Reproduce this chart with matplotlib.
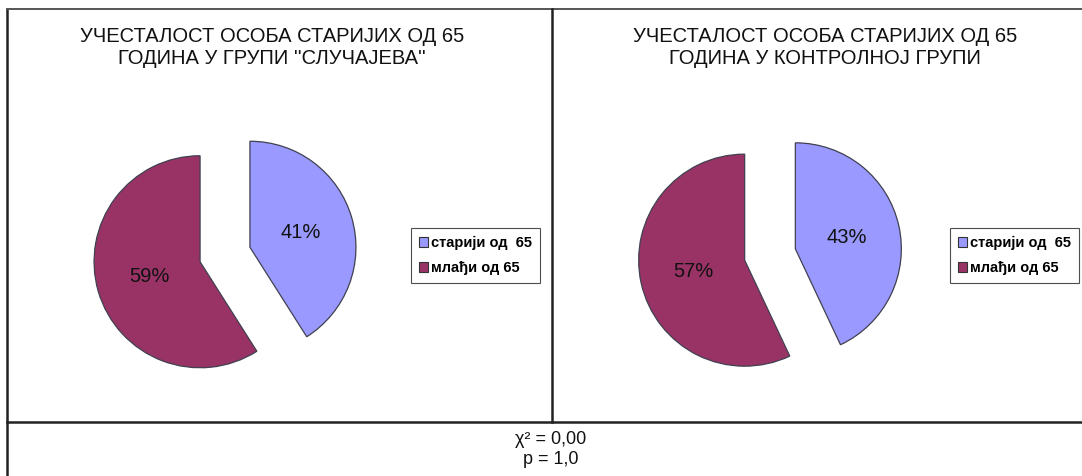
import matplotlib
matplotlib.use("Agg")
import matplotlib.pyplot as plt
from matplotlib.lines import Line2D
from matplotlib.patches import Patch

plt.rcParams['font.family'] = ['Liberation Sans', 'DejaVu Sans']

categories = ["старији од  65", "млађи од 65"]
cases_pct = [41, 59]
control_pct = [43, 57]
titles = ["УЧЕСТАЛОСТ ОСОБА СТАРИЈИХ ОД 65\nГОДИНА У ГРУПИ ''СЛУЧАЈЕВА''",
          "УЧЕСТАЛОСТ ОСОБА СТАРИЈИХ ОД 65\nГОДИНА У КОНТРОЛНОЈ ГРУПИ"]
stats_text = "χ² = 0,00\np = 1,0"

colors = ["#9999FF", "#993366"]
W, H = 1082, 476
fig = plt.figure(figsize=(W / 100, H / 100), dpi=100)
fig.patch.set_facecolor("white")

R = 106  # pie radius in px
half = 1.5 * R

def add_pie(cx, cy, values, title, tx, legx):
    ax = fig.add_axes([(cx - half) / W, (H - cy - half) / H, 2 * half / W, 2 * half / H])
    ax.pie(values, colors=colors, startangle=90, counterclock=False,
           explode=[0.245, 0.245], autopct=lambda p: f"{p:.0f}%", pctdistance=0.5,
           wedgeprops=dict(edgecolor="#404050", linewidth=0.9),
           textprops=dict(fontsize=14.5, color="#111111"))
    ax.set_xlim(-1.5, 1.5)
    ax.set_ylim(-1.5, 1.5)
    ax.set_aspect("equal")
    ax.axis("off")
    fig.text(tx / W, 1 - 47.5 / H, title, ha="center", va="center", fontsize=14.5,
             linespacing=1.2, color="#111111")
    handles = [Patch(facecolor=c, edgecolor="#333333", linewidth=0.8) for c in colors]
    leg = fig.legend(handles, categories, loc="upper left",
                     bbox_to_anchor=(legx / W, 1 - 228 / H),
                     prop=dict(size=10.5, weight="bold"), frameon=True, fancybox=False,
                     edgecolor="#222222", handlelength=0.6, handleheight=0.6,
                     handletextpad=0.2, borderpad=0.55, labelspacing=0.75,
                     borderaxespad=0)
    leg.get_frame().set_linewidth(0.8)

add_pie(225, 254.5, cases_pct, titles[0], 272, 411)
add_pie(770, 254.5, control_pct, titles[1], 825, 950)

# frame lines
lc = "#222222"
lw = 1.8
fig.add_artist(Line2D([7 / W, 7 / W], [0, 1 - 9 / H], color=lc, lw=lw))
fig.add_artist(Line2D([7 / W, 1], [1 - 9 / H, 1 - 9 / H], color="#555555", lw=1.4))
fig.add_artist(Line2D([552 / W, 552 / W], [1 - 422 / H, 1 - 9 / H], color=lc, lw=lw))
fig.add_artist(Line2D([7 / W, 1], [1 - 422 / H, 1 - 422 / H], color=lc, lw=lw))

fig.text(551 / W, 1 - 449.5 / H, stats_text, ha="center", va="center", fontsize=13,
         linespacing=1.2, color="#111111")

fig.savefig("out.png", dpi=100, facecolor="white")
